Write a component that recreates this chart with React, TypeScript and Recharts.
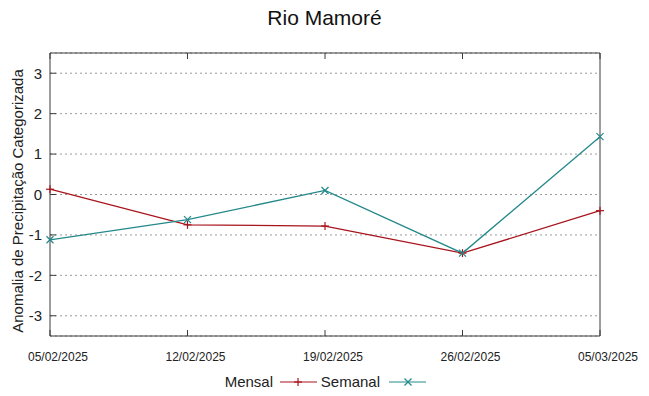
import { LineChart, Line, XAxis, YAxis, CartesianGrid, Legend } from 'recharts'

const dates = ['05/02/2025', '12/02/2025', '19/02/2025', '26/02/2025', '05/03/2025']
const mensal = [0.13, -0.75, -0.78, -1.45, -0.4]
const semanal = [-1.12, -0.62, 0.1, -1.45, 1.43]
const yTicks = [-3, -2, -1, 0, 1, 2, 3]

const RED = '#a8141c'
const TEAL = '#24898a'
const FRAME = '#3a3a3a'
const FONT = '"Liberation Sans", Arial, sans-serif'

const data = dates.map((d, i) => ({ date: d, mensal: mensal[i], semanal: semanal[i] }))

const PlusDot = (props: any) => {
  const { cx, cy } = props
  if (cx == null || cy == null) return null
  return (
    <g stroke={RED} strokeWidth={1.2}>
      <line x1={cx - 4} y1={cy} x2={cx + 4} y2={cy} />
      <line x1={cx} y1={cy - 4} x2={cx} y2={cy + 4} />
    </g>
  )
}

const CrossDot = (props: any) => {
  const { cx, cy } = props
  if (cx == null || cy == null) return null
  return (
    <g stroke={TEAL} strokeWidth={1.2}>
      <line x1={cx - 3.5} y1={cy - 3.5} x2={cx + 3.5} y2={cy + 3.5} />
      <line x1={cx - 3.5} y1={cy + 3.5} x2={cx + 3.5} y2={cy - 3.5} />
    </g>
  )
}

const LegendContent = () => (
  <svg width={649} height={22} style={{ display: 'block' }}>
    <g fontFamily={FONT} fontSize={15} fill="#222">
      <text x={273} y={16} textAnchor="end">Mensal</text>
      <line x1={280} y1={11} x2={317} y2={11} stroke={RED} strokeWidth={1.2} />
      <line x1={294} y1={11} x2={302} y2={11} stroke={RED} strokeWidth={1.2} />
      <line x1={298} y1={7} x2={298} y2={15} stroke={RED} strokeWidth={1.2} />
      <text x={380} y={16} textAnchor="end">Semanal</text>
      <line x1={389} y1={11} x2={426} y2={11} stroke={TEAL} strokeWidth={1.2} />
      <line x1={404.5} y1={7.5} x2={411.5} y2={14.5} stroke={TEAL} strokeWidth={1.2} />
      <line x1={404.5} y1={14.5} x2={411.5} y2={7.5} stroke={TEAL} strokeWidth={1.2} />
    </g>
  </svg>
)

export default function App() {
  const axisStyle = { stroke: FRAME, strokeWidth: 1 }
  return (
    <div style={{ position: 'absolute', left: 0, top: 0, width: 649, height: 396, background: '#fff' }}>
      <div
        style={{
          position: 'absolute', left: 0, top: 6, width: 649, textAlign: 'center',
          fontFamily: FONT, fontSize: 21, color: '#111',
        }}
      >
        Rio Mamoré
      </div>
      <LineChart
        width={649}
        height={396}
        data={data}
        margin={{ top: 43, right: 39, left: 0, bottom: 30 }}
      >
        <CartesianGrid vertical={false} stroke="#9a9a9a" strokeDasharray="2 3" />
        <XAxis
          dataKey="date"
          axisLine={axisStyle}
          tickLine={axisStyle}
          tickSize={-6}
          tickMargin={22}
          height={30}
          interval={0}
          tick={{ fontSize: 12, fill: '#222', dx: 8, fontFamily: '"Liberation Sans Narrow", "Arial Narrow", sans-serif' }}
        />
        <XAxis
          xAxisId="top"
          dataKey="date"
          orientation="top"
          axisLine={axisStyle}
          tickLine={axisStyle}
          tickSize={-6}
          height={10}
          interval={0}
          tickFormatter={() => ''}
        />
        <YAxis
          type="number"
          domain={[-3.5, 3.5]}
          ticks={yTicks}
          width={50}
          axisLine={axisStyle}
          tickLine={axisStyle}
          tickSize={-6}
          tickMargin={14}
          tick={{ fontSize: 15, fill: '#222', fontFamily: FONT }}
          label={() => (
            <text
              x={23}
              y={201}
              transform="rotate(-90 23 201)"
              textAnchor="middle"
              fontFamily={FONT}
              fontSize={15}
              fill="#222"
            >
              Anomalia de Precipitação Categorizada
            </text>
          )}
        />
        <YAxis
          yAxisId="right"
          orientation="right"
          type="number"
          domain={[-3.5, 3.5]}
          ticks={yTicks}
          width={10}
          axisLine={axisStyle}
          tickLine={axisStyle}
          tickSize={-6}
          tickFormatter={() => ''}
        />
        <Legend
          layout="vertical"
          align="center"
          verticalAlign="middle"
          wrapperStyle={{ top: 371, left: 0, width: 649 }}
          content={<LegendContent />}
        />
        <Line
          dataKey="mensal"
          name="Mensal"
          stroke={RED}
          strokeWidth={1.3}
          dot={<PlusDot />}
          activeDot={false}
          isAnimationActive={false}
        />
        <Line
          dataKey="semanal"
          name="Semanal"
          stroke={TEAL}
          strokeWidth={1.3}
          dot={<CrossDot />}
          activeDot={false}
          isAnimationActive={false}
        />
      </LineChart>
    </div>
  )
}
